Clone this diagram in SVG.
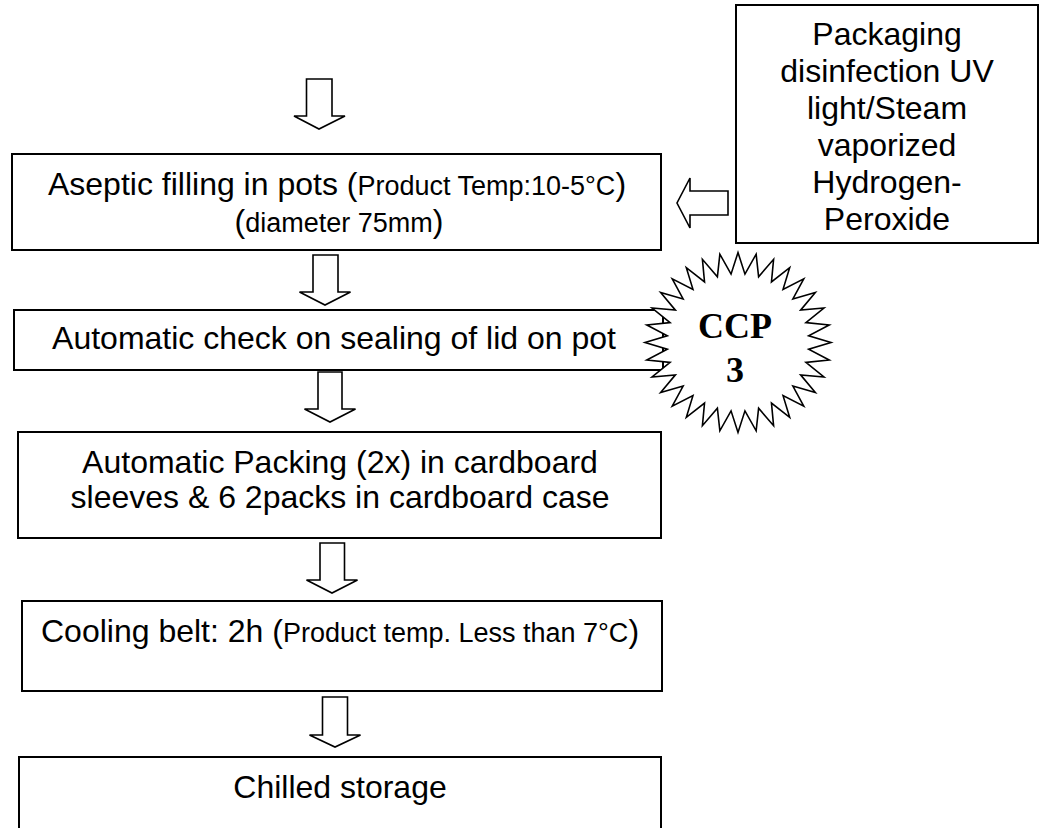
<svg xmlns="http://www.w3.org/2000/svg" width="1046" height="828" viewBox="0 0 1046 828">
<style>
.box{fill:#fff;stroke:#000;stroke-width:2}
.arr{fill:#fff;stroke:#000;stroke-width:1.6;stroke-linejoin:miter}
.t{font-family:"Liberation Sans",Arial,sans-serif;font-size:32px;fill:#000;text-anchor:middle}
.s{font-size:27px}
.ccp{font-family:"Liberation Serif","Times New Roman",serif;font-weight:bold;font-size:36px;fill:#000;text-anchor:middle}
</style>
<rect width="1046" height="828" fill="#fff"/>
<g id="connectors">
<path class="arr" d="M306.5,79 H332 V116 H345 L319,129 L294,116 H306.5 Z"/>
<path class="arr" d="M313,255 H338 V292 H350.5 L325,305 L299.5,292 H313 Z"/>
<path class="arr" d="M318,372 H342 V409 H355.5 L330,422 L304.5,409 H318 Z"/>
<path class="arr" d="M320,543 H344.5 V580 H357.5 L332,593 L306.5,580 H320 Z"/>
<path class="arr" d="M322.5,697 H347.5 V735 H360.5 L335,747 L309.5,735 H322.5 Z"/>
<path class="arr" d="M728,191 H690 V178 L677,203 L690,228 V215 H728 Z"/>
</g>
<g id="node-packaging">
<rect class="box" x="736" y="5" width="302" height="238"/>
<text class="t" x="887" y="45">Packaging</text>
<text class="t" x="887" y="82">disinfection UV</text>
<text class="t" x="887" y="119">light/Steam</text>
<text class="t" x="887" y="156">vaporized</text>
<text class="t" x="887" y="193">Hydrogen-</text>
<text class="t" x="887" y="230">Peroxide</text>
</g>
<g id="node-aseptic">
<rect class="box" x="12" y="154" width="649" height="96"/>
<text class="t" x="337" y="195">Aseptic filling in pots (<tspan class="s">Product Temp:10-5°C</tspan>)</text>
<text class="t" x="339" y="232">(<tspan class="s">diameter 75mm</tspan>)</text>
</g>
<g id="node-check">
<rect class="box" x="14" y="310" width="649" height="60"/>
<text class="t" x="334" y="349">Automatic check on sealing of lid on pot</text>
</g>
<g id="node-ccp">
<polygon fill="#fff" stroke="#000" stroke-width="1.6" vector-effect="non-scaling-stroke" transform="translate(738,342.5) scale(0.93,0.9)" points="0,-100 7.48,-75.97 19.51,-98.08 22.16,-73.05 38.27,-92.39 35.98,-67.33 55.56,-83.15 48.43,-59.01 70.71,-70.71 59.01,-48.43 83.15,-55.56 67.33,-35.98 92.39,-38.27 73.05,-22.16 98.08,-19.51 75.97,-7.48 100,0 75.97,7.48 98.08,19.51 73.05,22.16 92.39,38.27 67.33,35.98 83.15,55.56 59.01,48.43 70.71,70.71 48.43,59.01 55.56,83.15 35.98,67.33 38.27,92.39 22.16,73.05 19.51,98.08 7.48,75.97 0,100 -7.48,75.97 -19.51,98.08 -22.16,73.05 -38.27,92.39 -35.98,67.33 -55.56,83.15 -48.43,59.01 -70.71,70.71 -59.01,48.43 -83.15,55.56 -67.33,35.98 -92.39,38.27 -73.05,22.16 -98.08,19.51 -75.97,7.48 -100,0 -75.97,-7.48 -98.08,-19.51 -73.05,-22.16 -92.39,-38.27 -67.33,-35.98 -83.15,-55.56 -59.01,-48.43 -70.71,-70.71 -48.43,-59.01 -55.56,-83.15 -35.98,-67.33 -38.27,-92.39 -22.16,-73.05 -19.51,-98.08 -7.48,-75.97"/>
<text class="ccp" x="735" y="338">CCP</text>
<text class="ccp" x="735" y="382">3</text>
</g>
<g id="node-packing">
<rect class="box" x="18" y="432" width="643" height="106"/>
<text class="t" x="340" y="473">Automatic Packing (2x) in cardboard</text>
<text class="t" x="340" y="508">sleeves &amp; 6 2packs in cardboard case</text>
</g>
<g id="node-cooling">
<rect class="box" x="22" y="601" width="640" height="90"/>
<text class="t" x="340" y="642">Cooling belt: 2h (<tspan class="s">Product temp. Less than 7°C</tspan>)</text>
</g>
<g id="node-chilled">
<rect class="box" x="19" y="757" width="642" height="100"/>
<text class="t" x="340" y="798">Chilled storage</text>
</g>
</svg>
